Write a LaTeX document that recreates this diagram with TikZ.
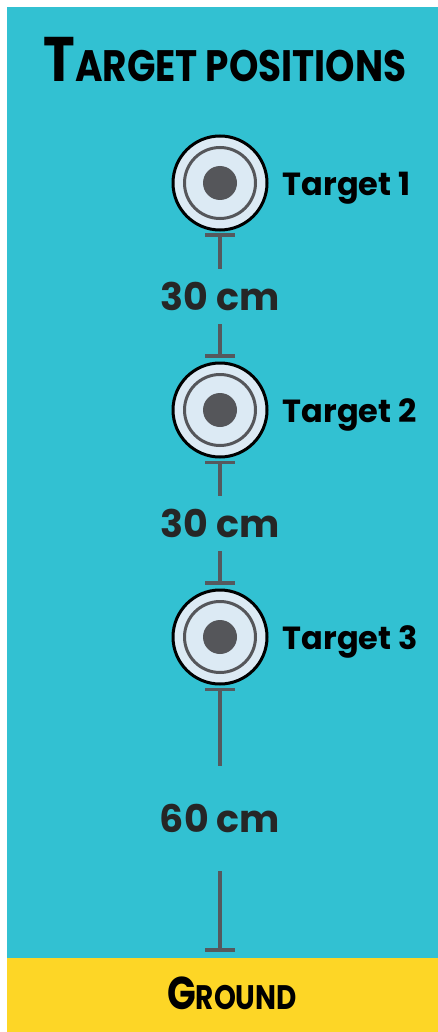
\documentclass[tikz,border=0pt]{standalone}
\usepackage{fontspec}
\setmainfont{Poppins}
\usetikzlibrary{positioning, arrows.meta, calc}
\definecolor{sky}{HTML}{32C1D2}
\definecolor{sand}{HTML}{FDD626}
\definecolor{disc}{HTML}{DCEAF4}
\definecolor{ringgray}{HTML}{55565A}
\definecolor{stemgray}{HTML}{55595E}
\definecolor{ink}{HTML}{262626}
\tikzset{endbar/.tip={Bar[width=30pt]}}

\begin{document}
\begin{tikzpicture}[x=1pt, y=1pt, node distance=227pt, on grid,
    target/.style={circle, draw=black, line width=3pt, fill=disc, minimum size=94pt, inner sep=0pt,
      path picture={
        \draw[ringgray, line width=3pt] (path picture bounding box.center) circle (35.5pt);
        \fill[ringgray] (path picture bounding box.center) circle (17pt);}},
    tlabel/.style={anchor=west, inner sep=0pt, font=\bfseries\fontsize{32}{32}\selectfont},
    dimlabel/.style={inner xsep=0pt, inner ysep=13pt, text=ink, font=\bfseries\fontsize{38}{38}\selectfont},
    dimline/.style={draw=stemgray, line width=3.6pt}]

    % panels
    \fill[white] (0,0) rectangle (438,-1032);
    \fill[sky] (7,-7) rectangle (438,-958);
    \fill[sand] (7,-958) rectangle (438,-1032);

    \node (title) at (225,-60) {\scalebox{0.85}[1]{\bfseries{\fontsize{63}{63}\selectfont T}\fontsize{44}{44}\selectfont ARGET POSITIONS}};

    \node[target] (t1) at (220,-183) {};
    \node[target] (t2) [below=of t1] {};
    \node[target] (t3) [below=of t2] {};

    \node[tlabel] (l1) at ([xshift=14pt,yshift=-5pt]t1.east) {Target 1};
    \node[tlabel] (l2) at ([xshift=14pt,yshift=-5pt]t2.east) {Target 2};
    \node[tlabel] (l3) at ([xshift=14pt,yshift=-5pt]t3.east) {Target 3};

    \coordinate (g) at (220,-952);
    \node[dimlabel] (d1) at ($(t1)!0.5!(t2)$) {30 cm};
    \node[dimlabel] (d2) at ($(t2)!0.5!(t3)$) {30 cm};
    \node[dimlabel, inner ysep=38pt] (d3) at ($(t3.south)!0.5!(g)$) {60 cm};

    \path[dimline]
    ([yshift=-2pt]t1.south) edge[endbar-] (d1.north)
    (d1.south) edge[-endbar] ([yshift=4pt]t2.north)
    ([yshift=-2pt]t2.south) edge[endbar-] (d2.north)
    (d2.south) edge[-endbar] ([yshift=4pt]t3.north)
    ([yshift=-2pt]t3.south) edge[endbar-] (d3.north)
    (d3.south) edge[-endbar] (g)
    ;

    \node (ground) at (232,-993) {\scalebox{0.82}[1]{\bfseries{\fontsize{46}{46}\selectfont G}\fontsize{34}{34}\selectfont ROUND}};
\end{tikzpicture}
\end{document}
